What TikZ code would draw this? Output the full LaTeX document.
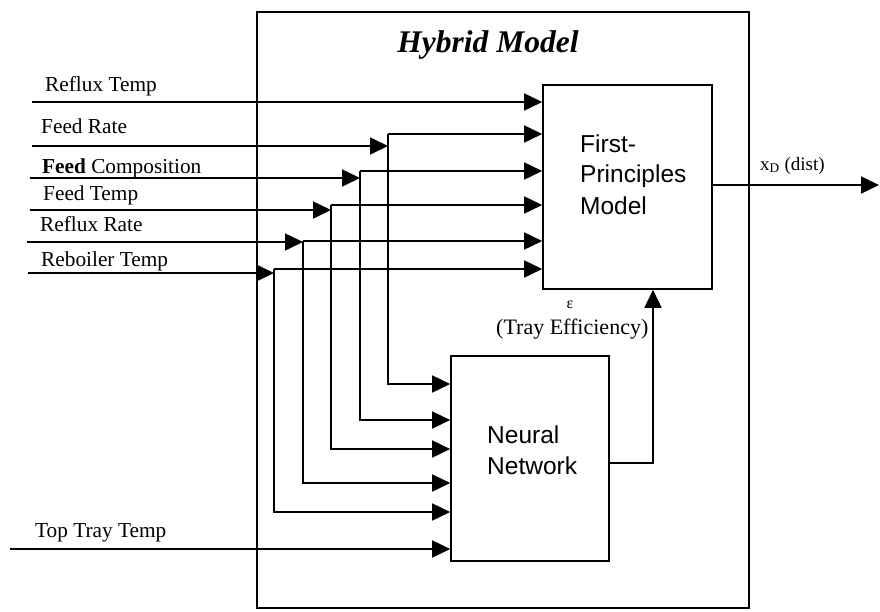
\documentclass[tikz,border=0pt]{standalone}
\usepackage{fontspec}
\setmainfont{Liberation Serif}
\newfontfamily\arialf{Liberation Sans}
\usetikzlibrary{arrows.meta}
\begin{document}
\begin{tikzpicture}[x=1pt,y=-1pt,
  box/.style={draw, line width=1.6pt, inner sep=0pt},
  wire/.style={line width=1.6pt},
  arr/.style={wire, -{Triangle[length=18pt,width=17pt]}},
  lbl/.style={anchor=base west, inner sep=0pt, font=\fontsize{21.3}{25}\selectfont},
  sans/.style={anchor=base west, inner sep=0pt, font=\arialf\fontsize{24.5}{28}\selectfont}]
\useasboundingbox (0,0) rectangle (880,611);
% boxes
\node[box, minimum width=492pt, minimum height=596pt] (hyb) at (503,310) {};
\node[box, minimum width=169pt, minimum height=204pt] (fp) at (627.5,187) {};
\node[box, minimum width=158pt, minimum height=205pt] (nn) at (530,458.5) {};
% titles
\node[anchor=base, inner sep=0pt, font=\fontsize{31.5}{36}\selectfont\bfseries\itshape] (title) at (488,52) {Hybrid Model};
\node[sans] (fpa) at (580,152) {First-};
\node[sans] (fpb) at (580,182) {Principles};
\node[sans] (fpc) at (580,214) {Model};
\node[sans] (nna) at (487,443) {Neural};
\node[sans] (nnb) at (487,474) {Network};
% input labels
\node[lbl] (l1) at (45,91) {Reflux Temp};
\node[lbl] (l2) at (41,133) {Feed Rate};
\node[lbl] (l3) at (42,173) {\textbf{Feed} Composition};
\node[lbl] (l4) at (43,200) {Feed Temp};
\node[lbl] (l5) at (40,231) {Reflux Rate};
\node[lbl] (l6) at (41,266) {Reboiler Temp};
\node[lbl] (l7) at (35,537) {Top Tray Temp};
\node[anchor=base, inner sep=0pt, font=\fontsize{16}{19}\selectfont] (eps) at (570,308) {ε};
\node[lbl, font=\fontsize{22}{25}\selectfont] (eff) at (496,334) {(Tray Efficiency)};
\node[anchor=base west, inner sep=0pt, font=\fontsize{19}{22}\selectfont] (xd) at (760,170) {x\textsubscript{D} (dist)};
% start coordinates
\coordinate (s1) at (32,102);
\coordinate (s2) at (32,146);
\coordinate (s3) at (30,178);
\coordinate (s4) at (30,210);
\coordinate (s5) at (27,242);
\coordinate (s6) at (28,273);
\coordinate (s7) at (10,549);
% junctions
\coordinate (j2) at (388,146); \coordinate (t2) at (388,134); \coordinate (d2) at (388,384);
\coordinate (j3) at (360,178); \coordinate (t3) at (360,171); \coordinate (d3) at (360,420);
\coordinate (j4) at (331,210); \coordinate (t4) at (331,205); \coordinate (d4) at (331,449);
\coordinate (j5) at (303,242); \coordinate (t5) at (303,241); \coordinate (d5) at (303,483);
\coordinate (j6) at (274,273); \coordinate (t6) at (274,269); \coordinate (d6) at (274,512);
% wires
\draw[arr] (s1) -- (s1 -| fp.west);
\draw[arr] (s2) -- (j2);
\draw[arr] (s3) -- (j3);
\draw[arr] (s4) -- (j4);
\draw[arr] (s5) -- (j5);
\draw[arr] (s6) -- (j6);
\draw[arr] (t2) -- (t2 -| fp.west);
\draw[arr] (t3) -- (t3 -| fp.west);
\draw[arr] (t4) -- (t4 -| fp.west);
\draw[arr] (t5) -- (t5 -| fp.west);
\draw[arr] (t6) -- (t6 -| fp.west);
\draw[arr] (t2) -- (d2) -- (d2 -| nn.west);
\draw[arr] (t3) -- (d3) -- (d3 -| nn.west);
\draw[arr] (t4) -- (d4) -- (d4 -| nn.west);
\draw[arr] (t5) -- (d5) -- (d5 -| nn.west);
\draw[arr] (t6) -- (d6) -- (d6 -| nn.west);
\draw[arr] (s7) -- (s7 -| nn.west);
% NN to FP
\coordinate (o) at (653,463);
\draw[arr] (nn.east |- o) -- (o) -- (o |- fp.south);
% output
\coordinate (out) at (879,185);
\draw[arr] (fp.east |- out) -- (out);
\end{tikzpicture}
\end{document}
